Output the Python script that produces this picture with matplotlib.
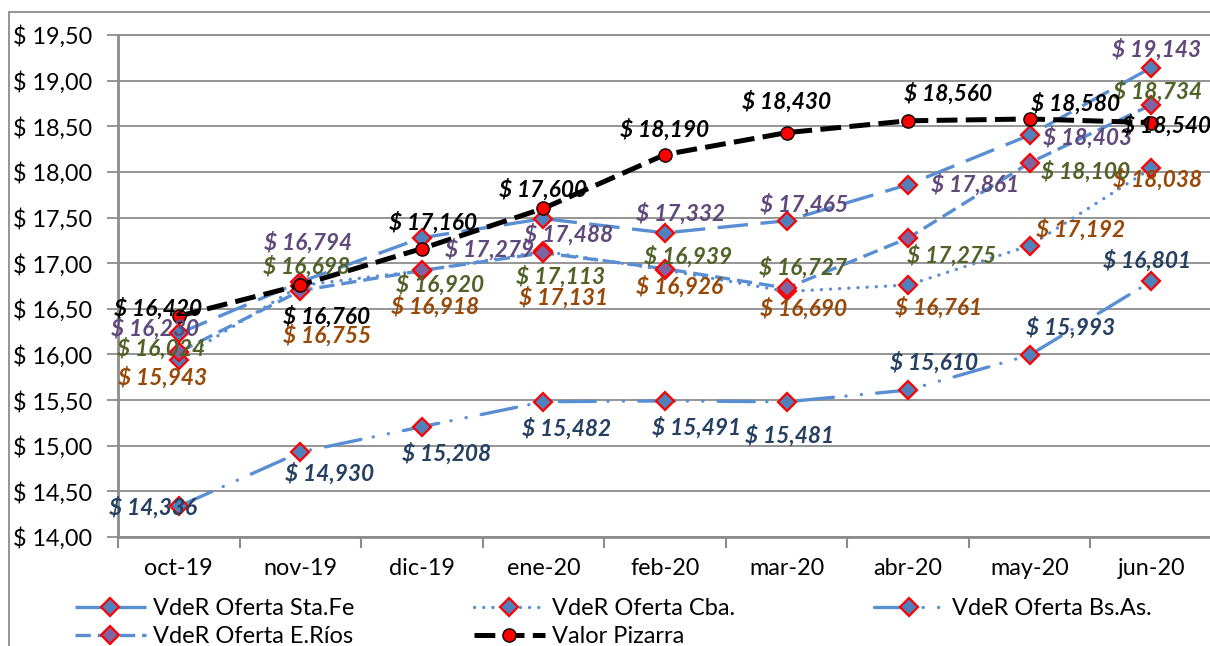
import matplotlib
matplotlib.use('Agg')
import matplotlib.pyplot as plt
from matplotlib.lines import Line2D
from matplotlib.patches import Rectangle
from matplotlib.ticker import FuncFormatter, FixedLocator

# ---------------- data ----------------
months = ['oct-19', 'nov-19', 'dic-19', 'ene-20', 'feb-20', 'mar-20', 'abr-20', 'may-20', 'jun-20']
sta_fe = [16.230, 16.794, 17.279, 17.488, 17.332, 17.465, 17.861, 18.403, 19.143]
cba = [15.943, 16.755, 16.918, 17.131, 16.926, 16.690, 16.761, 17.192, 18.038]
bs_as = [14.336, 14.930, 15.208, 15.482, 15.491, 15.481, 15.610, 15.993, 16.801]
e_rios = [16.024, 16.698, 16.920, 17.113, 16.939, 16.727, 17.275, 18.100, 18.734]
pizarra = [16.420, 16.760, 17.160, 17.600, 18.190, 18.430, 18.560, 18.580, 18.540]
y_ticks = [14.0, 14.5, 15.0, 15.5, 16.0, 16.5, 17.0, 17.5, 18.0, 18.5, 19.0, 19.5]
series_names = ['VdeR Oferta Sta.Fe', 'VdeR Oferta Cba.', 'VdeR Oferta Bs.As.',
                'VdeR Oferta E.Ríos', 'Valor Pizarra']

# label offsets in pixels (dx right, dy down)
off_pizarra = [(-21, -8), (26, 31), (11, -26), (0, -19), (0, -25), (0, -31), (40, -27), (46, -15), (15, 3)]
off_sta_fe = [(-24, -5), (8, -39), (68, 12), (25, 16), (16, -19), (18, -16), (67, 0), (58, 2), (5, -18)]
off_e_rios = [(-18, -4), (6, -24), (18, 14), (17, 24), (23, -12), (17, -21), (43, 17), (56, 9), (6, -13)]
off_cba = [(-16, 18), (27, 50), (13, 36), (20, 46), (15, 17), (17, 17), (30, 23), (51, -16), (6, 11)]
off_bs_as = [(-26, 1), (29, 21), (25, 27), (23, 27), (32, 27), (3, 34), (26, -28), (41, -28), (-4, -21)]

# ---------------- style ----------------
plt.rcParams['font.family'] = ['Lato', 'DejaVu Sans']
plt.rcParams['lines.scale_dashes'] = False

BLUE = '#5A8ED3'
MK_BLUE = '#4F81BD'
MK_PURPLE = '#8064A2'
RED = '#FF0000'
GRID = '#8C8C8C'

W, H = 1210, 646
fig = plt.figure(figsize=(W / 100, H / 100), dpi=100)
ax = fig.add_axes([118 / W, 1 - 537 / H, 1094 / W, 502 / H])

x = list(range(len(months)))
lw = 2.4
ms = 9
styles = {
    'sta': dict(color=BLUE, lw=lw, dashes=(22, 9), marker='D', ms=ms, mfc=MK_BLUE, mec=RED, mew=1.6),
    'cba': dict(color=BLUE, lw=lw, dashes=(0.1, 6.5), dash_capstyle='round', marker='D', ms=ms, mfc=MK_BLUE, mec=RED, mew=1.6),
    'bs': dict(color=BLUE, lw=lw, dashes=(26, 9, 0.1, 11, 0.1, 11), dash_capstyle='round', marker='D', ms=ms, mfc=MK_BLUE, mec=RED, mew=1.6),
    'er': dict(color=BLUE, lw=lw, dashes=(11, 5), marker='D', ms=ms, mfc=MK_PURPLE, mec=RED, mew=1.6),
    'pz': dict(color='black', lw=3.6, dashes=(15, 6), marker='o', ms=9.5, mfc=RED, mec='black', mew=1.0),
}

h_sta, = ax.plot(x, sta_fe, zorder=3, **styles['sta'])
h_cba, = ax.plot(x, cba, zorder=3, **styles['cba'])
h_bs, = ax.plot(x, bs_as, zorder=3, **styles['bs'])
h_er, = ax.plot(x, e_rios, zorder=3, **styles['er'])
h_pz, = ax.plot(x, pizarra, zorder=4, **styles['pz'])


def fmt(v):
    return ('$ %.3f' % v).replace('.', ',')


LBL = 16.3
for vals, offs, col in [(sta_fe, off_sta_fe, '#5F497A'),
                        (cba, off_cba, '#984807'),
                        (bs_as, off_bs_as, '#254061'),
                        (e_rios, off_e_rios, '#4F6228'),
                        (pizarra, off_pizarra, 'black')]:
    for i, v in enumerate(vals):
        dx, dy = offs[i]
        ax.annotate(fmt(v), (i, v), xytext=(dx, -dy), textcoords='offset pixels',
                    ha='center', va='center', fontsize=LBL, fontweight='bold',
                    fontstyle='italic', color=col, zorder=5)

# axes
TK = 16.8
ax.set_xlim(-0.5, len(months) - 0.5)
ax.set_ylim(y_ticks[0], y_ticks[-1])
ax.set_yticks(y_ticks)
ax.yaxis.set_major_formatter(FuncFormatter(lambda v, p: ('$ %.2f' % v).replace('.', ',')))
ax.set_xticks(x)
ax.set_xticklabels(months)
ax.xaxis.set_minor_locator(FixedLocator([i + 0.5 for i in range(-1, len(months))]))
ax.tick_params(axis='x', which='major', length=0, pad=15, labelsize=TK)
ax.tick_params(axis='x', which='minor', length=8, width=1.5, color=GRID)
ax.tick_params(axis='y', length=8, width=1.3, color=GRID, pad=10.5, labelsize=TK)
ax.grid(axis='y', color=GRID, lw=1.3, zorder=0)
ax.set_axisbelow(True)
for s in ['left', 'bottom']:
    ax.spines[s].set_color(GRID)
    ax.spines[s].set_linewidth(2)
ax.spines['top'].set_color(GRID)
ax.spines['top'].set_linewidth(1.3)
ax.spines['right'].set_visible(False)

# outer frame
fig.patches.append(Rectangle((9 / W, -0.1), 1.2, (1 - 12 / H) + 0.1, transform=fig.transFigure,
                             fill=False, edgecolor=GRID, lw=1.3))

# legend (three columns)
LEG = 17
cols = [([h_sta, h_er], [series_names[0], series_names[3]], 75),
        ([h_cba, h_pz], [series_names[1], series_names[4]], 474),
        ([h_bs], [series_names[2]], 874)]
for hs, ls, px in cols:
    fig.legend(hs, ls, loc='upper left', bbox_to_anchor=(px / W, 1 - 598 / H),
               frameon=False, fontsize=LEG, handlelength=3.0, handletextpad=0.3,
               labelspacing=0.3, borderpad=0, borderaxespad=0)

fig.savefig('out.png', dpi=100)
